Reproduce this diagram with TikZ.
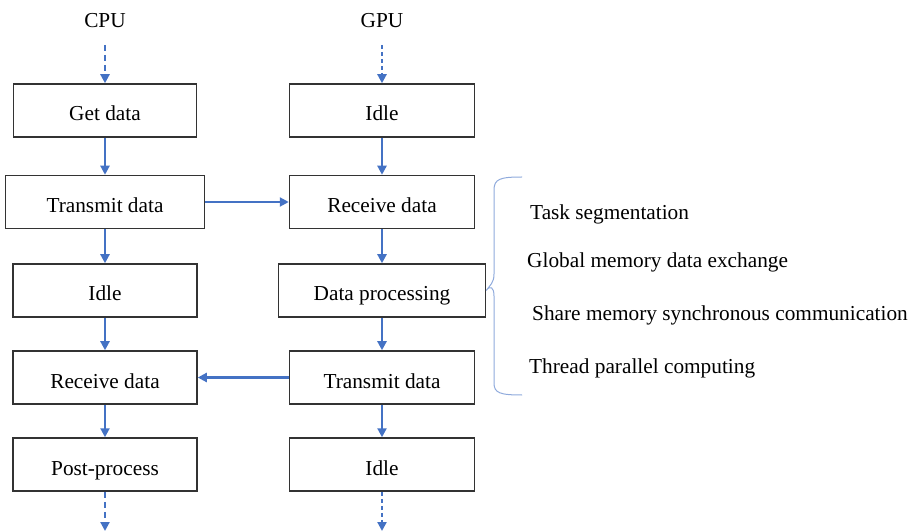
\documentclass[tikz,border=0pt]{standalone}
\usepackage{fontspec}
\setmainfont{Liberation Serif}
\usetikzlibrary{arrows.meta}
\definecolor{flowblue}{RGB}{68,114,196}
\definecolor{bracecol}{RGB}{143,170,220}
\begin{document}
\begin{tikzpicture}[x=1bp,y=-1bp,
  every node/.style={font=\fontsize{21.3bp}{25bp}\selectfont},
  procbox/.style={draw=black!80,line width=1.5bp,minimum height=53bp,inner sep=0pt,
    text height=21bp,text depth=0bp},
  flow/.style={draw=flowblue,line width=2.2bp,-{Triangle[length=9bp,width=9bp]}},
  dflow/.style={flow,dash pattern=on 6bp off 4bp},
  item/.style={anchor=west,inner sep=0pt}]
\useasboundingbox (0,0) rectangle (909,531);
% headers
\node (cpu) at (105,21) {CPU};
\node (gpu) at (382,21) {GPU};
% CPU column
\node[procbox,minimum width=183bp] (c1) at (105,110.5) {Get data};
\node[procbox,minimum width=199bp] (c2) at (105,202) {Transmit data};
\node[procbox,minimum width=184bp] (c3) at (105,290.5) {Idle};
\node[procbox,minimum width=184bp] (c4) at (105,377.5) {Receive data};
\node[procbox,minimum width=184bp] (c5) at (105,464.5) {Post-process};
% GPU column
\node[procbox,minimum width=185bp] (g1) at (382,110.5) {Idle};
\node[procbox,minimum width=185bp] (g2) at (382,202) {Receive data};
\node[procbox,minimum width=207bp] (g3) at (382,290.5) {Data processing};
\node[procbox,minimum width=185bp] (g4) at (382,377.5) {Transmit data};
\node[procbox,minimum width=185bp] (g5) at (382,464.5) {Idle};
% free ends
\coordinate (ctop) at (105,45);
\coordinate (gtop) at (382,45);
\coordinate (cbot) at (105,531);
\coordinate (gbot) at (382,531);
% arrows
\draw[dflow] (ctop) -- (c1.north);
\draw[dflow,dash pattern=on 4bp off 3bp] (gtop) -- (g1.north);
\draw[flow] (c1.south) -- (c2.north);
\draw[flow] (c2.south) -- (c3.north);
\draw[flow] (c3.south) -- (c4.north);
\draw[flow] (c4.south) -- (c5.north);
\draw[flow] (g1.south) -- (g2.north);
\draw[flow] (g2.south) -- (g3.north);
\draw[flow] (g3.south) -- (g4.north);
\draw[flow] (g4.south) -- (g5.north);
\draw[dflow] (c5.south) -- (cbot);
\draw[dflow,dash pattern=on 4bp off 3bp] (g5.south) -- (gbot);
\draw[flow] (c2.east) -- (g2.west);
\draw[flow] (g4.west) -- (c4.east);
% brace
\draw[bracecol,line width=1bp]
  (522,177) .. controls (500,177) and (494,179) .. (494,190)
  -- (494,274) .. controls (494,283) and (490,285) .. (g3.east)
  .. controls (490,285) and (494,287) .. (494,296)
  -- (494,383) .. controls (494,393) and (500,395) .. (522,395);
% items
\node[item] (t1) at (530,214) {Task segmentation};
\node[item] (t2) at (527,262) {Global memory data exchange};
\node[item] (t3) at (532,315) {Share memory synchronous communication};
\node[item] (t4) at (529,368) {Thread parallel computing};
\end{tikzpicture}
\end{document}
